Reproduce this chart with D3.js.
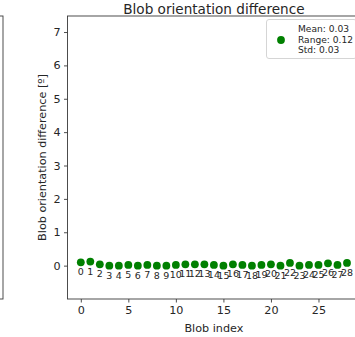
<!DOCTYPE html>
<html>
<head>
<meta charset="utf-8">
<script src="https://cdn.jsdelivr.net/npm/d3@7/dist/d3.min.js"></script>
<style>
html,body{margin:0;padding:0;background:#fff;overflow:hidden;}
text{font-family:"DejaVu Sans",sans-serif;}
</style>
</head>
<body>
<svg id="c" width="355" height="337"></svg>
<script>
const blobIndex = d3.range(0, 29);
const orientationDiff = [0.10,0.12,0.04,0.00,0.00,0.02,0.00,0.02,0.00,0.00,0.02,0.04,0.04,0.04,0.02,0.00,0.04,0.02,0.00,0.02,0.04,0.00,0.08,0.00,0.02,0.02,0.07,0.02,0.08];
const xTicks = [0,5,10,15,20,25];
const yTicks = [0,1,2,3,4,5,6,7];
const legendLines = ["Mean: 0.03","Range: 0.12","Std: 0.03"];
const titleText = "Blob orientation difference";
const xLabel = "Blob index";
const yLabel = "Blob orientation difference [º]";

const svg = d3.select("#c");
const pL = 67.5, pR = 360.3, pT = 16, pB = 299;
const x = d3.scaleLinear().domain([-1.4, 29.4]).range([pL, pR]);
const y = d3.scaleLinear().domain([-1.0, 7.48]).range([pB, pT]);
const textCol = "#262626", spineCol = "#3a3a3a";

// neighbouring subplot's right spine
svg.append("rect").attr("x", -50).attr("y", pT).attr("width", 53).attr("height", pB - pT)
  .attr("fill", "none").attr("stroke", spineCol).attr("stroke-width", 0.9);

// axes frame
svg.append("rect").attr("x", pL).attr("y", pT).attr("width", pR - pL).attr("height", pB - pT)
  .attr("fill", "none").attr("stroke", spineCol).attr("stroke-width", 0.9);

const xAxis = svg.append("g").attr("transform", `translate(0,${pB})`)
  .call(d3.axisBottom(x).tickValues(xTicks).tickSize(3.5).tickPadding(3.5).tickFormat(d3.format("d")));
const yAxis = svg.append("g").attr("transform", `translate(${pL},0)`)
  .call(d3.axisLeft(y).tickValues(yTicks).tickSize(3.5).tickPadding(3.5).tickFormat(d3.format("d")));
[xAxis, yAxis].forEach(g => {
  g.select(".domain").remove();
  g.selectAll("line").attr("stroke", spineCol).attr("stroke-width", 0.9);
  g.selectAll("text").attr("fill", textCol).attr("font-size", "11.2px").attr("font-family", "DejaVu Sans");
});

// points
svg.append("g").selectAll("circle").data(blobIndex).join("circle")
  .attr("cx", i => x(i)).attr("cy", i => y(orientationDiff[i])).attr("r", 3.9).attr("fill", "#008000");

// index labels
svg.append("g").selectAll("text").data(blobIndex).join("text")
  .attr("x", i => x(i)).attr("y", i => y(orientationDiff[i]) + 13)
  .attr("text-anchor", "middle").attr("font-size", "9.5px").attr("fill", textCol)
  .text(i => String(i));

// title
svg.append("text").attr("x", (pL + pR) / 2).attr("y", 13.5).attr("text-anchor", "middle")
  .attr("font-size", "13.6px").attr("fill", textCol).text(titleText);

// axis labels
svg.append("text").attr("x", (pL + pR) / 2).attr("y", 332).attr("text-anchor", "middle")
  .attr("font-size", "11.2px").attr("fill", textCol).text(xLabel);
svg.append("text").attr("transform", `translate(46,${(pT + pB) / 2}) rotate(-90)`)
  .attr("text-anchor", "middle").attr("font-size", "11.2px").attr("fill", textCol).text(yLabel);

// legend
const lg = svg.append("g");
lg.append("rect").attr("x", 266.5).attr("y", 19.5).attr("width", 90).attr("height", 39).attr("rx", 2.5)
  .attr("fill", "#fff").attr("fill-opacity", 0.8).attr("stroke", "#d0d0d0").attr("stroke-width", 0.9);
lg.append("circle").attr("cx", 281).attr("cy", 40).attr("r", 3.9).attr("fill", "#008000");
lg.selectAll("text.l").data(legendLines).join("text").attr("class", "l")
  .attr("x", 298).attr("y", (d, i) => 32.3 + i * 10.5)
  .attr("font-size", "9.1px").attr("fill", textCol).text(d => d);
</script>
</body>
</html>
